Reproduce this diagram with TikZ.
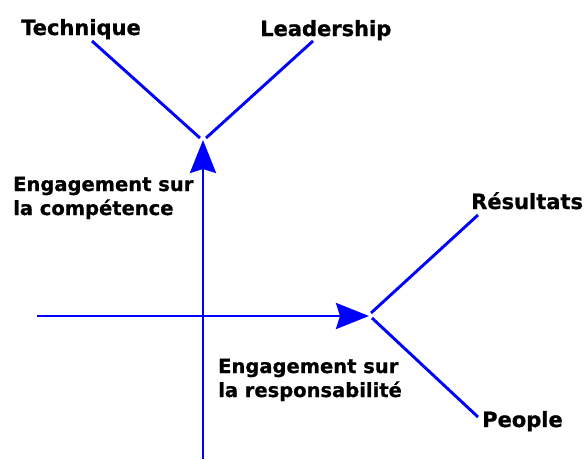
\documentclass[tikz,border=0pt]{standalone}
\usepackage{fontspec}
\setmainfont{DejaVu Sans}[BoldFeatures={FakeBold=0.8}]
\usetikzlibrary{arrows.meta}
\definecolor{axisblue}{RGB}{0,0,255}
\begin{document}
\begin{tikzpicture}[x=1pt,y=-1pt,
  axis/.style={draw=axisblue,line width=2.9pt},
  branch/.style={draw=axisblue,line width=2.9pt},
  tip/.style={-{Stealth[length=33pt,width=26pt,inset=4pt]}},
  label/.style={inner sep=0pt,anchor=base west,font=\bfseries\fontsize{21}{24}\selectfont},
  note/.style={inner sep=0pt,anchor=base west,align=left,font=\bfseries\fontsize{19.5}{24}\selectfont}]
  \useasboundingbox (0,0) rectangle (587,459);

  % axes
  \coordinate (vbot) at (203,459);
  \coordinate (vtop) at (203,140);
  \coordinate (hleft) at (37,316);
  \coordinate (hright) at (369,316);
  \draw[axis,tip] (vbot) -- (vtop);
  \draw[axis,tip] (hleft) -- (hright);

  % labels
  \node[label] (tech) at (21,35) {Technique};
  \node[label] (lead) at (260,36) {Leadership};
  \node[label] (res) at (471,209) {Résultats};
  \node[label] (peo) at (482,427) {People};
  % two-line notes, placed by the baseline of their last line
  \node[note] (comp) at (13,215) {Engagement sur\\la compétence};
  \node[note] (resp) at (218,397) {Engagement sur\\la responsabilité};

  % branch ends
  \coordinate (techEnd) at (92,41);
  \coordinate (leadEnd) at (313,41);
  \coordinate (resEnd) at (478,215);
  \coordinate (peoEnd) at (478,417);
  \coordinate (vl) at (200,138);
  \coordinate (vr) at (206,138);
  \coordinate (hu) at (371,313);
  \coordinate (hd) at (372,318);

  \draw[branch] (techEnd) -- (vl);
  \draw[branch] (leadEnd) -- (vr);
  \draw[branch] (resEnd) -- (hu);
  \draw[branch] (hd) -- (peoEnd);
\end{tikzpicture}
\end{document}
